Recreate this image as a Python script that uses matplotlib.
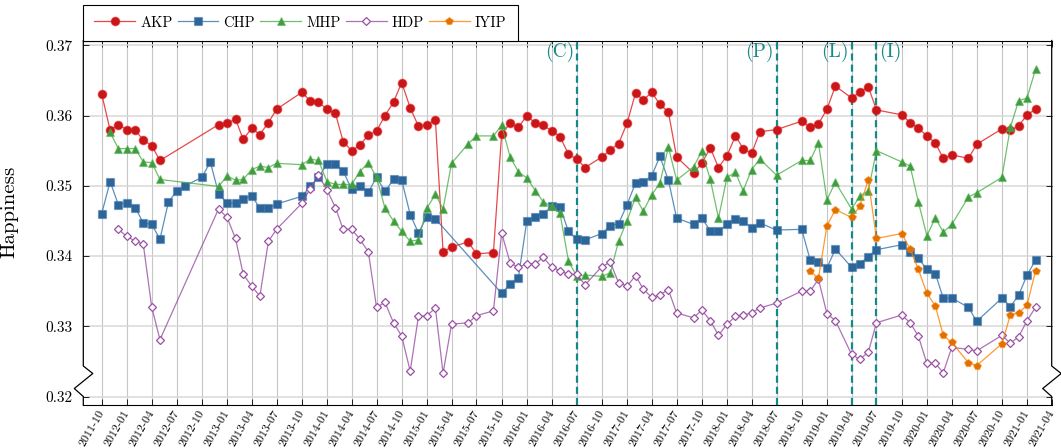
import numpy as np
import pandas as pd
import matplotlib
matplotlib.use('Agg')
from matplotlib import pyplot as plt
from matplotlib.lines import Line2D
from matplotlib.ticker import FuncFormatter
import matplotlib.transforms as mtrans

plt.rcParams['font.family'] = 'cmr10'
plt.rcParams['mathtext.fontset'] = 'cm'
plt.rcParams['axes.formatter.use_mathtext'] = True

nan = np.nan

# monthly survey index, 2011-10 .. 2021-02 (missing months are nan)
months = pd.date_range('2011-10-01', '2021-02-01', freq='MS')

akp = [
    .3631, .3579, .3587,
    .3580, .3579, .3565, .3557, .3536, nan, nan, nan, nan, nan, nan, .3587,
    .3589, .3595, .3566, .3582, .3573, .3590, .3609, nan, nan, .3633, .3621, .3619,
    .3609, .3603, .3563, .3550, .3558, .3572, .3578, .3600, .3619, .3647, .3611, .3585,
    .3587, .3594, .3406, .3413, nan, .3420, .3403, nan, .3405, .3574, .3589, .3583,
    .3600, .3589, .3586, .3578, .3570, .3545, .3538, .3526, nan, .3541, .3551, .3560,
    .3589, .3632, .3622, .3633, .3616, .3605, .3541, nan, .3518, .3532, .3554, .3526,
    .3543, .3571, .3553, .3546, .3577, nan, .3580, nan, nan, .3592, .3583, .3588,
    .3609, .3642, nan, .3625, .3633, .3641, .3608, nan, nan, .3601, .3590, .3582,
    .3571, .3561, .3539, .3544, nan, .3539, .3559, nan, nan, .3581, .3579, .3585,
    .3601, .3609,
]
chp = [
    .3460, .3506, .3473,
    .3476, .3469, .3447, .3445, .3424, .3477, .3492, .3500, nan, .3512, .3534, .3489,
    .3475, .3475, .3481, .3486, .3468, .3468, .3474, nan, nan, .3485, .3499, .3512,
    .3531, .3531, .3521, .3495, .3499, .3491, .3512, .3492, .3509, .3508, .3459, .3433,
    .3456, .3453, nan, nan, nan, nan, nan, nan, nan, .3347, .3360, .3369,
    .3450, .3456, .3460, .3471, .3470, .3435, .3424, .3423, nan, .3432, .3443, .3446,
    .3473, .3504, .3505, .3514, .3542, .3508, .3454, nan, .3445, .3454, .3436, .3435,
    .3445, .3452, .3450, .3440, .3447, nan, .3437, nan, nan, .3438, .3394, .3392,
    .3383, .3410, nan, .3384, .3389, .3399, .3409, nan, nan, .3416, .3406, .3397,
    .3381, .3375, .3340, .3340, nan, .3327, .3307, nan, nan, .3340, .3328, .3344,
    .3373, .3394,
]
mhp = [
    nan, .3576, .3553,
    .3553, .3553, .3534, .3533, .3509, nan, nan, nan, nan, nan, nan, .3499,
    .3514, .3508, .3509, .3523, .3528, .3526, .3532, nan, nan, .3530, .3538, .3536,
    .3506, .3502, .3502, .3502, .3520, .3533, .3512, .3468, .3450, .3435, .3421, .3423,
    .3468, .3488, .3467, .3532, nan, .3560, .3571, nan, .3571, .3586, .3541, .3520,
    .3511, .3493, .3477, .3471, .3461, .3393, .3371, .3373, nan, .3371, .3376, .3421,
    .3450, .3484, .3464, .3487, .3504, .3555, .3508, nan, .3527, .3549, .3509, .3454,
    .3512, .3519, .3493, .3523, .3538, nan, .3515, nan, nan, .3536, .3536, .3561,
    .3480, .3505, nan, .3467, .3485, .3493, .3550, nan, nan, .3534, .3528, .3477,
    .3429, .3454, .3434, .3445, nan, .3484, .3490, nan, nan, .3512, .3583, .3621,
    .3625, .3666,
]
hdp = [
    nan, nan, .3438,
    .3428, .3421, .3417, .3327, .3281, nan, nan, nan, nan, nan, nan, .3467,
    .3455, .3425, .3374, .3357, .3343, .3421, .3438, nan, nan, .3475, .3496, .3515,
    .3494, .3469, .3438, .3438, .3424, .3406, .3327, .3334, .3305, .3286, .3236, .3314,
    .3315, .3326, .3233, .3303, nan, .3305, .3315, nan, .3322, .3433, .3390, .3384,
    .3389, .3389, .3398, .3384, .3379, .3374, .3374, .3359, nan, .3385, .3391, .3362,
    .3357, .3372, .3353, .3341, .3345, .3352, .3319, nan, .3312, .3323, .3308, .3287,
    .3303, .3314, .3316, .3319, .3326, nan, .3333, nan, nan, .3350, .3350, .3367,
    .3318, .3308, nan, .3260, .3253, .3263, .3305, nan, nan, .3316, .3305, .3286,
    .3247, .3247, .3234, .3270, nan, .3267, .3265, nan, nan, .3287, .3276, .3285,
    .3308, .3327,
]
iyip = [nan] * 3 + [nan] * 12 * 6 + [
    nan, nan, nan, nan, nan, nan, nan, nan, nan, nan, .3379, .3368,
    .3443, .3466, nan, .3455, .3471, .3508, .3425, nan, nan, .3432, .3410, .3381,
    .3347, .3329, .3287, .3277, nan, .3248, .3244, nan, nan, .3275, .3316, .3319,
    .3330, .3379,
]

events = ['2016-07-01', '2018-07-01', '2019-04-01', '2019-07-01']
event_labels = ['(C)', '(P)', '(L)', '(I)']
event_side = ['left', 'left', 'left', 'right']

yticks = [0.32, 0.33, 0.34, 0.35, 0.36, 0.37]

W, H = 1061, 448
fig = plt.figure(figsize=(W / 100, H / 100), dpi=100)
L, R, T, B = 83.3, 1051.7, 40.5, 405
ax = fig.add_axes([L / W, 1 - B / H, (R - L) / W, (B - T) / H])

series = [
    ('AKP', akp, (0.89, 0.10, 0.11), 'o', 6.2, None),
    ('CHP', chp, (0.20, 0.45, 0.68), 's', 5.8, None),
    ('MHP', mhp, (0.30, 0.69, 0.29), '^', 5.4, None),
    ('HDP', hdp, (0.60, 0.31, 0.64), 'D', 4.4, 'white'),
    ('IYIP', iyip, (1.00, 0.50, 0.00), 'p', 6.0, None),
]

for name, vals, c, mk, ms, face in series:
    s = pd.Series(vals, index=months).dropna()
    dark = tuple(v * 0.88 for v in c)
    ax.plot(s.index, s.values, color=c + (0.8,), lw=0.9, marker=mk, ms=ms,
            mfc=face if face else dark, mec=c + (0.45,) if face is None else c,
            mew=0.9, label=name, zorder=3)

teal = '#15898a'
for d, lab, side in zip(events, event_labels, event_side):
    d = pd.Timestamp(d)
    ax.axvline(d, color=teal, lw=1.6, ls=(0, (3.2, 1.8)), zorder=2)
    off = -2 if side == 'left' else 2
    ax.annotate(lab, xy=(d, 1), xycoords=('data', 'axes fraction'),
                xytext=(off, -1.0), textcoords='offset points',
                ha='right' if side == 'left' else 'left', va='top',
                color=teal, fontsize=14)

xt = pd.date_range('2011-10-01', '2021-04-01', freq='3MS')
ax.set_xticks(xt)
ax.set_xticklabels([d.strftime('%Y-%m') for d in xt], rotation=60, ha='right',
                   va='center', rotation_mode='anchor', fontsize=8.6)
# nudge the rotated labels slightly left, as in the original
shift = mtrans.ScaledTranslation(-3 / 100, 0, fig.dpi_scale_trans)
for lbl in ax.get_xticklabels():
    lbl.set_transform(lbl.get_transform() + shift)
ax.set_xlim(pd.Timestamp('2011-07-26'), pd.Timestamp('2021-04-01'))

ax.set_yticks(yticks)
ax.yaxis.set_major_formatter(FuncFormatter(lambda v, p: '%.2f' % v))
ax.set_ylim(0.32 - 8.5 / 7027, 0.37 + 4.8 / 7027)
for lbl in ax.get_yticklabels():
    lbl.set_fontsize(11)

ax.tick_params(direction='in', top=True, right=True, length=4, width=0.6)
ax.tick_params(axis='x', pad=4.5)
ax.tick_params(axis='y', pad=8)
ax.grid(axis='x', color='#c6c6c6', lw=0.8)
ax.grid(axis='y', color='#d8d8d8', lw=1.1)
ax.set_axisbelow(True)

ax.set_ylabel('Happiness', fontsize=15)
ax.yaxis.set_label_coords((18 - L) / (R - L), (B - 211.7) / (B - T))

# y-axis break ("crunch") drawn by hand on both sides
ax.spines['left'].set_visible(False)
ax.spines['right'].set_visible(False)
for x0 in (L, R):
    xs = np.array([x0, x0, x0 + 9.5, x0 - 9, x0, x0])
    ys = np.array([T, 366, 373.5, 388.5, 396.5, B])
    fig.add_artist(Line2D(xs / W, 1 - ys / H, transform=fig.transFigure,
                          color='black', lw=0.9))

leg = ax.legend(loc='lower left', bbox_to_anchor=(0, 1), borderaxespad=0,
                ncol=5, fontsize=10.5, handlelength=2.8, handletextpad=0.35,
                columnspacing=0.35, fancybox=False, edgecolor='black',
                framealpha=1, borderpad=0.75)
leg.get_frame().set_linewidth(0.8)

fig.savefig('out.png', dpi=100)
